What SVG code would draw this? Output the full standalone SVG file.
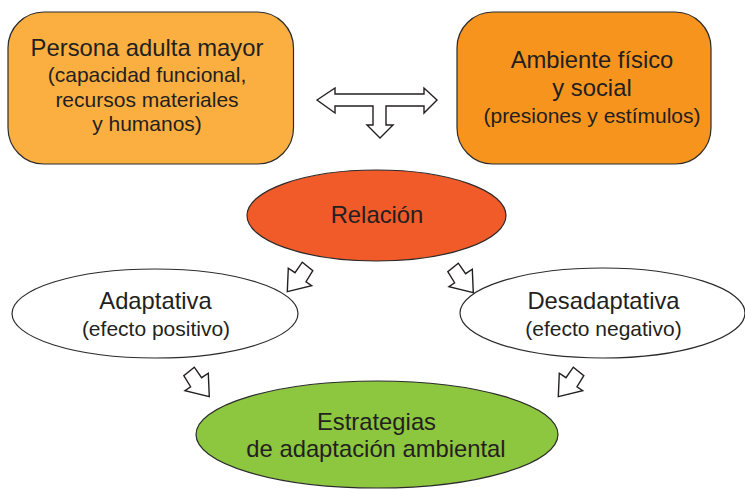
<svg xmlns="http://www.w3.org/2000/svg" width="745" height="489" viewBox="0 0 745 489">
<style>
text{font-family:"Liberation Sans",Arial,sans-serif;fill:#231F20;text-anchor:middle}
.t{font-size:23.8px}
.s{font-size:21px}
.shape{stroke:#2B2B2B;stroke-width:1.2}
.arr{fill:#FFFFFF;stroke:#231F20;stroke-width:1.4;stroke-linejoin:miter}
</style>
<defs>
<polygon id="bArrow" class="arr" points="0,0 1,-23.5 7.7,-19 15,-29.5 25.5,-21 18.7,-10 24.4,-6"/>
</defs>
<rect width="745" height="489" fill="#FFFFFF"/>
<g id="persona">
<rect class="shape" x="8" y="12" width="285.5" height="152" rx="36" ry="36" fill="#FAAF40"/>
<text class="t" x="147" y="56">Persona adulta mayor</text>
<text class="s" x="147" y="82">(capacidad funcional,</text>
<text class="s" x="147" y="106.5">recursos materiales</text>
<text class="s" x="147" y="130.5">y humanos)</text>
</g>
<g id="ambiente">
<rect class="shape" x="457" y="12" width="254" height="152" rx="36" ry="36" fill="#F7941D"/>
<text class="t" x="592" y="67.5">Ambiente físico</text>
<text class="t" x="592" y="96">y social</text>
<text class="s" x="592" y="122.5">(presiones y estímulos)</text>
</g>
<g id="relacion">
<ellipse class="shape" cx="376.5" cy="215.5" rx="129.5" ry="45.5" fill="#F15A29"/>
<text class="t" x="377" y="223">Relación</text>
</g>
<g id="adaptativa">
<ellipse class="shape" cx="155" cy="313.5" rx="143" ry="44.5" fill="#FFFFFF"/>
<text class="t" x="155.5" y="309">Adaptativa</text>
<text class="s" x="156" y="336">(efecto positivo)</text>
</g>
<g id="desadaptativa">
<ellipse class="shape" cx="602.5" cy="313" rx="142.5" ry="45" fill="#FFFFFF"/>
<text class="t" x="603.5" y="309">Desadaptativa</text>
<text class="s" x="603.5" y="336">(efecto negativo)</text>
</g>
<g id="estrategias">
<ellipse class="shape" cx="377" cy="434.5" rx="181" ry="53.5" fill="#8DC63F"/>
<text class="t" x="376.5" y="430">Estrategias</text>
<text class="t" x="376" y="457">de adaptación ambiental</text>
</g>
<g id="connectors">
<path class="arr" d="M317,100 L335,88 L335,94 L424,94 L424,88 L437,100 L424,113 L424,106 L386,106 L386,125 L393,125 L380,138 L367,125 L373,125 L373,106 L335,106 L335,113 Z"/>
<use href="#bArrow" transform="translate(287.3,291.7)"/>
<use href="#bArrow" transform="translate(473.3,292.7) scale(-1,1)"/>
<use href="#bArrow" transform="translate(209.3,396.7) scale(-1,1)"/>
<use href="#bArrow" transform="translate(558.3,396.7)"/>
</g>
</svg>
